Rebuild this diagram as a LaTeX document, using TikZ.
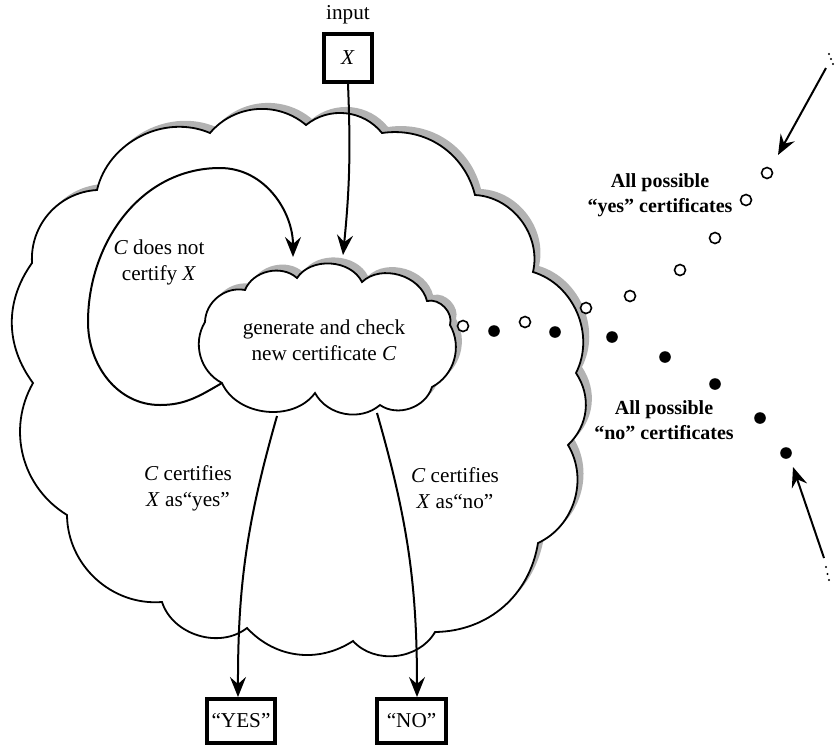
\documentclass[tikz,border=0pt]{standalone}
\usepackage{fontspec}
\setmainfont{Liberation Serif}
\usetikzlibrary{arrows.meta,calc}
\begin{document}
\begin{tikzpicture}[x=0.5pt,y=0.5pt,
  conn/.style={line width=1pt,-{Stealth[length=10pt,width=8pt,inset=3.5pt]}},
  shadowfill/.style={fill=black!30,draw=none},
  cloudfill/.style={fill=white,draw=black,line width=0.9pt},
  box/.style={draw=black,line width=2pt,inner sep=0pt,font=\fontsize{10.6}{13}\selectfont},
  lbl/.style={font=\fontsize{10.6}{13}\selectfont,align=center,inner sep=0pt},
  blbl/.style={font=\fontsize{10}{12.5}\selectfont\bfseries,align=center,inner sep=0pt},
  odot/.style={circle,draw=black,line width=0.8pt,fill=white,inner sep=0pt,minimum size=5.5pt},
  fdot/.style={circle,fill=black,inner sep=0pt,minimum size=5.8pt},
  tdot/.style={circle,fill=black,inner sep=0pt,minimum size=1.2pt},
  outercloud/.pic={\path[pic actions] (32,-263) to[bend left=45] (97,-190) to[bend left=50] (210,-133)
     to[bend left=45] (306,-125) to[bend left=45] (382,-133) to[bend left=42] (475,-195)
     to[bend left=50] (533,-272) to[bend left=50] (576,-373) to[bend left=40] (568,-445)
     to[bend left=48] (538,-543) to[bend left=40] (435,-632) to[bend left=54] (353,-641)
     to[bend left=40] (247,-628) to[bend left=55] (162,-602) to[bend left=47] (67,-515)
     to[bend left=44] (33,-383) to[bend left=36] (32,-263) -- cycle;},
  innercloud/.pic={\path[pic actions] (222,-383) to[bend left=47] (205,-322) to[bend left=50] (245,-290)
     to[bend left=55] (297,-278) to[bend left=60] (362,-282) to[bend left=60] (427,-301)
     to[bend left=60] (450,-325) to[bend left=46] (432,-387) to[bend left=54] (380,-405)
     to[bend left=51] (315,-393) to[bend left=60] (222,-383) -- cycle;}
]
\useasboundingbox (0,0) rectangle (835,-751);

% clouds
\pic[shadowfill] at (6,6) {outercloud};
\pic[cloudfill] at (0,0) {outercloud};
\pic[shadowfill] at (6,6) {innercloud};
\pic[cloudfill] at (0,0) {innercloud};

% boxes and texts
\node[lbl] (input) at (348,-15) {input};
\node[box,minimum width=24pt,minimum height=24pt] (X) at (348,-58) {\textit{X}};
\node[box,minimum width=34pt,minimum height=22pt] (YES) at (241,-721) {“YES”};
\node[box,minimum width=34.5pt,minimum height=22pt] (NO) at (411.5,-721) {“NO”};

\node[lbl] (gen) at (324,-340) {generate and check\\new certificate \textit{C}};
\node[lbl] (notcert) at (159,-262) {\textit{C} does not\\certify \textit{X}};
\node[lbl] (certyes) at (188,-488) {\textit{C} certifies\\\textit{X} as“yes”};
\node[lbl] (certno) at (455,-488) {\textit{C} certifies\\\textit{X} as“no”};
\node[blbl] (yeslbl) at (660,-195) {All possible\\“yes” certificates};
\node[blbl] (nolbl) at (664,-420) {All possible\\“no” certificates};

% connector end points
\coordinate (intop) at (343,-255);
\coordinate (loopstart) at (222,-383);
\coordinate (looptip) at (293,-257);
\coordinate (yesstart) at (277,-416);
\coordinate (nostart) at (377,-413);
\coordinate (ya) at (826,-68);
\coordinate (yb) at (778,-155);
\coordinate (na) at (824,-558);
\coordinate (nb) at (793,-467);

% connectors
\draw[conn] (X.south) to[bend left=4] (intop);
\draw[conn] (loopstart) to[out=210,in=0] (160,-405) to[out=180,in=-90] (88,-322)
   to[out=90,in=180] (220,-168) to[out=0,in=90] (looptip);
\draw[conn] (yesstart) to[bend right=8] ($(YES.north)+(-3,0)$);
\draw[conn] (nostart) to[bend left=8] ($(NO.north)+(5.5,0)$);
\draw[conn] (ya) -- (yb);
\draw[conn] (na) -- (nb);

% certificate dots
\foreach \p [count=\i] in {(463,-326),(525,-322),(586,-308),(630,-296),(680,-270),(715,-238),(746,-200),(767,-173)}
  \node[odot] (o\i) at \p {};
\foreach \p [count=\i] in {(494,-331),(555,-332),(612,-337),(665,-357),(715,-384),(760,-418),(786,-453)}
  \node[fdot] (f\i) at \p {};

% ellipses
\node[tdot] (t1) at (829,-54) {};
\node[tdot] (t2) at (831,-59) {};
\node[tdot] (t3) at (833,-64) {};
\node[tdot] (b1) at (826,-567) {};
\node[tdot] (b2) at (827.5,-574) {};
\node[tdot] (b3) at (829,-580) {};
\end{tikzpicture}
\end{document}
